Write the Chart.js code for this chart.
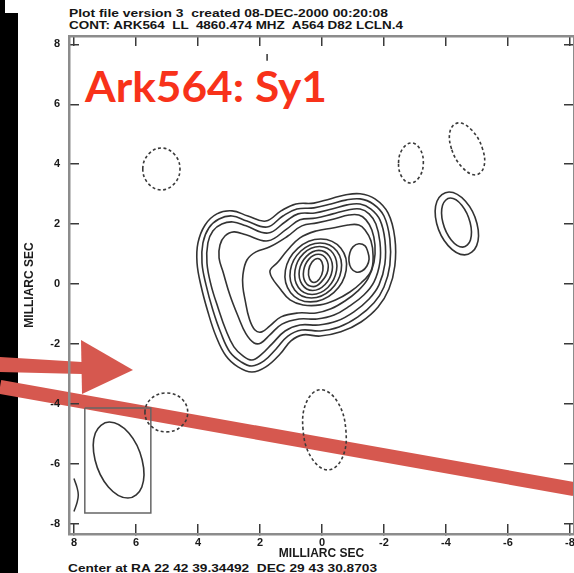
<!DOCTYPE html>
<html>
<head>
<meta charset="utf-8">
<script src="https://cdn.jsdelivr.net/npm/chart.js@4/dist/chart.umd.min.js"></script>
<style>
  html, body { margin: 0; padding: 0; background: #fff; overflow: hidden; }
  #wrap { position: relative; width: 574px; height: 573px; }
  #under, #map { position: absolute; left: 0; top: 0; }
  #under text { font-family: "Liberation Sans", Arial, sans-serif; font-weight: bold; fill: #151515; white-space: pre; }
</style>
</head>
<body>
<div id="wrap">
  <svg id="under" width="574" height="573" xml:space="preserve">
    <rect x="0" y="13" width="18" height="560" fill="#000"/>
    <rect x="0" y="0" width="5" height="13" fill="#000"/>
    <line x1="0" y1="387" x2="574" y2="489" stroke="#d6584f" stroke-width="14"/>
    <polygon points="0,357 82,362 82,374 0,372" fill="#d6584f"/>
    <polygon points="81,340 133,370 82,394" fill="#d6584f"/>
    <text x="69" y="16.5" font-size="11" textLength="319" lengthAdjust="spacingAndGlyphs">Plot file version 3  created 08-DEC-2000 00:20:08</text>
    <text x="69" y="29" font-size="11" textLength="334" lengthAdjust="spacingAndGlyphs">CONT: ARK564  LL  4860.474 MHZ  A564 D82 LCLN.4</text>
    <text x="68" y="571.5" font-size="11" textLength="309" lengthAdjust="spacingAndGlyphs">Center at RA 22 42 39.34492  DEC 29 43 30.8703</text>
    <text x="85" y="102" font-size="42" textLength="242" lengthAdjust="spacingAndGlyphs"
          style="font-family: Lato, 'Open Sans', sans-serif; font-weight: 700; fill: #f8321a;">Ark564: Sy1</text>
  </svg>
  <canvas id="map" width="574" height="573"></canvas>
</div>
<script>
// Axis ticks (milliarcseconds)
const xTicks = [8, 6, 4, 2, 0, -2, -4, -6, -8];
const yTicks = [8, 6, 4, 2, 0, -2, -4, -6, -8];

// Positive contours wrapping the whole source, outermost first
const ring1 = [[4.00,1.37],[3.77,1.97],[3.39,2.34],[2.90,2.44],[2.39,2.27],[1.81,2.10],[1.32,2.44],[0.84,2.67],[0.26,2.70],[-0.26,2.84],[-0.74,2.97],[-1.23,3.01],[-1.71,2.84],[-2.13,2.37],[-2.35,1.54],[-2.35,0.60],[-2.16,-0.17],[-1.81,-0.77],[-1.26,-1.27],[-0.61,-1.60],[0.06,-1.74],[0.61,-1.70],[1.00,-1.90],[1.35,-2.34],[1.81,-2.77],[2.26,-2.94],[2.71,-2.77],[3.10,-2.40],[3.42,-1.74],[3.68,-0.93],[3.90,-0.07],[4.03,0.70]];
const ring2 = [[3.84,1.37],[3.65,1.87],[3.32,2.17],[2.90,2.27],[2.42,2.10],[1.77,1.90],[1.26,2.27],[0.81,2.50],[0.26,2.54],[-0.29,2.67],[-0.77,2.80],[-1.23,2.84],[-1.65,2.67],[-2.00,2.27],[-2.19,1.50],[-2.19,0.63],[-2.00,-0.10],[-1.68,-0.63],[-1.16,-1.10],[-0.55,-1.44],[0.06,-1.57],[0.65,-1.54],[1.10,-1.74],[1.48,-2.17],[1.87,-2.57],[2.26,-2.74],[2.61,-2.60],[2.97,-2.27],[3.26,-1.64],[3.52,-0.87],[3.74,-0.03],[3.87,0.70]];
const ring3 = [[3.68,1.37],[3.52,1.77],[3.23,2.00],[2.87,2.07],[2.45,1.94],[1.74,1.70],[1.19,2.07],[0.77,2.34],[0.23,2.37],[-0.32,2.50],[-0.81,2.64],[-1.23,2.67],[-1.58,2.50],[-1.87,2.14],[-2.03,1.47],[-2.03,0.67],[-1.84,-0.03],[-1.52,-0.50],[-1.03,-0.93],[-0.48,-1.24],[0.10,-1.37],[0.71,-1.37],[1.19,-1.57],[1.61,-2.00],[1.97,-2.37],[2.26,-2.54],[2.55,-2.40],[2.84,-2.10],[3.10,-1.54],[3.35,-0.80],[3.58,-0.03],[3.71,0.70]];
const ring4 = [[3.29,1.30],[3.13,1.60],[2.84,1.74],[2.45,1.64],[1.74,1.44],[1.13,1.84],[0.71,2.14],[0.19,2.20],[-0.35,2.34],[-0.84,2.47],[-1.23,2.50],[-1.52,2.34],[-1.74,2.00],[-1.87,1.40],[-1.87,0.73],[-1.68,0.07],[-1.35,-0.37],[-0.90,-0.73],[-0.39,-1.04],[0.16,-1.17],[0.74,-1.17],[1.29,-1.34],[1.68,-1.70],[1.97,-1.97],[2.19,-1.97],[2.45,-1.67],[2.71,-1.07],[2.97,-0.37],[3.19,0.40],[3.32,0.87]];
const ring5 = [[2.55,0.30],[2.42,0.80],[2.13,1.07],[1.68,1.24],[1.10,1.60],[0.65,1.94],[0.16,2.04],[-0.39,2.17],[-0.87,2.30],[-1.19,2.30],[-1.42,2.14],[-1.61,1.80],[-1.71,1.30],[-1.68,0.73],[-1.48,0.17],[-1.16,-0.23],[-0.74,-0.57],[-0.29,-0.83],[0.19,-0.97],[0.77,-0.97],[1.32,-1.10],[1.68,-1.40],[1.94,-1.60],[2.16,-1.54],[2.35,-1.14],[2.48,-0.53],[2.55,-0.10]];
const ring6 = [[1.68,0.40],[1.42,0.73],[1.10,1.14],[0.71,1.54],[0.19,1.77],[-0.35,1.87],[-0.84,1.97],[-1.19,1.97],[-1.39,1.80],[-1.58,1.44],[-1.65,0.93],[-1.58,0.43],[-1.26,0.03],[-0.90,-0.27],[-0.45,-0.53],[0.06,-0.70],[0.61,-0.70],[1.03,-0.53],[1.32,-0.20]];

// Secondary knot to the west of the core
const knot = [[-1.19,1.34],[-1.39,1.27],[-1.48,1.07],[-1.52,0.83],[-1.45,0.60],[-1.29,0.43],[-1.10,0.40],[-0.94,0.53],[-0.87,0.77],[-0.90,1.04],[-1.00,1.24]];

// Core contours, outermost first
const core1 = [[1.18,0.45],[0.78,1.19],[0.04,1.50],[-0.61,1.19],[-0.78,0.45],[-0.38,-0.29],[0.37,-0.60],[1.01,-0.29]];
const core2 = [[1.02,0.45],[0.68,1.10],[0.06,1.37],[-0.48,1.10],[-0.62,0.45],[-0.28,-0.20],[0.34,-0.47],[0.88,-0.20]];
const core3 = [[0.87,0.45],[0.59,1.02],[0.08,1.25],[-0.36,1.02],[-0.47,0.45],[-0.19,-0.12],[0.32,-0.35],[0.76,-0.12]];
const core4 = [[0.73,0.45],[0.50,0.92],[0.10,1.12],[-0.24,0.92],[-0.33,0.45],[-0.10,-0.02],[0.30,-0.22],[0.64,-0.02]];
const core5 = [[0.59,0.45],[0.42,0.83],[0.12,0.99],[-0.14,0.83],[-0.19,0.45],[0.02,0.07],[0.28,-0.09],[0.54,0.07]];
const core6 = [[0.43,0.45],[0.32,0.73],[0.14,0.85],[0.00,0.73],[-0.03,0.45],[0.08,0.17],[0.26,0.05],[0.40,0.17]];

// Isolated component to the north-west (two levels)
const blobOuter = [[-3.70,2.02],[-3.71,2.76],[-4.10,3.07],[-4.63,2.76],[-5.00,2.02],[-4.99,1.28],[-4.60,0.97],[-4.07,1.28]];
const blobInner = [[-3.90,2.05],[-3.89,2.63],[-4.14,2.87],[-4.51,2.63],[-4.78,2.05],[-4.79,1.47],[-4.54,1.23],[-4.17,1.47]];

// Negative (dashed) contours
const negA = [[5.78,3.84],[5.60,4.33],[5.18,4.54],[4.76,4.33],[4.58,3.84],[4.76,3.35],[5.18,3.14],[5.60,3.35]];
const negB = [[-2.47,4.04],[-2.60,4.51],[-2.89,4.71],[-3.16,4.51],[-3.27,4.04],[-3.14,3.57],[-2.85,3.37],[-2.58,3.57]];
const negC = [[-4.18,4.51],[-4.14,5.13],[-4.41,5.38],[-4.84,5.13],[-5.18,4.51],[-5.22,3.90],[-4.95,3.64],[-4.52,3.90]];
const negD = [[5.71,-4.29],[5.51,-3.83],[5.02,-3.64],[4.53,-3.83],[4.33,-4.29],[4.53,-4.75],[5.02,-4.94],[5.51,-4.75]];
const negE = [[0.61,-4.87],[0.49,-3.92],[0.04,-3.53],[-0.49,-3.92],[-0.77,-4.87],[-0.65,-5.82],[-0.20,-6.21],[0.33,-5.82]];

// Restoring beam and its box, plus small edge fragments
const beam = [[7.32,-5.88],[7.31,-4.98],[6.86,-4.61],[6.23,-4.98],[5.80,-5.88],[5.81,-6.78],[6.26,-7.15],[6.89,-6.78]];
const beamBox = [[7.65,-4.14],[5.52,-4.14],[5.52,-7.65],[7.65,-7.65],[7.65,-4.14]];
const edgeArc = [[8.0,-6.5],[7.9,-6.8],[7.86,-7.05],[7.9,-7.3],[8.0,-7.6]];
const topFragment = [[1.77,7.68],[1.77,7.45]];

const solidColor = '#333333';
const dashColor = '#3a3a3a';

// Closed contour: wrap one point on each side so the spline joins smoothly,
// and hide the two wrap segments.
function closedContour(pts, dashed) {
  const n = pts.length;
  const data = [pts[n - 1], ...pts, pts[0], pts[1]].map(([x, y]) => ({ x, y }));
  const last = data.length - 1;
  return {
    data,
    showLine: true,
    tension: 0.4,
    pointRadius: 0,
    borderColor: dashed ? dashColor : solidColor,
    borderWidth: 1.6,
    borderDash: dashed ? [3, 2.5] : [],
    segment: {
      borderColor: ctx => (ctx.p0DataIndex === 0 || ctx.p1DataIndex === last) ? 'rgba(0,0,0,0)' : undefined
    },
    xAxisID: 'x',
    yAxisID: 'y'
  };
}

function openPath(pts, tension, color) {
  return {
    data: pts.map(([x, y]) => ({ x, y })),
    showLine: true,
    tension,
    pointRadius: 0,
    borderColor: color,
    borderWidth: 1.5,
    xAxisID: 'x',
    yAxisID: 'y'
  };
}

const datasets = [
  ...[ring1, ring2, ring3, ring4, ring5, ring6, knot,
      core1, core2, core3, core4, core5, core6,
      blobOuter, blobInner, beam].map(p => closedContour(p, false)),
  ...[negA, negB, negC, negD, negE].map(p => closedContour(p, true)),
  openPath(beamBox, 0, '#666'),
  openPath(edgeArc, 0.4, solidColor),
  openPath(topFragment, 0, solidColor)
];

const labelFont = { family: 'Liberation Sans', weight: 'bold', size: 11 };
const titleFont = { family: 'Liberation Sans', weight: 'bold', size: 12 };

function setTicks(values) {
  return scale => { scale.ticks = values.map(v => ({ value: v })); };
}
function fixSize(prop, size) {
  return scale => {
    scale[prop] = size;
    scale.paddingLeft = 0; scale.paddingRight = 0;
    scale.paddingTop = 0; scale.paddingBottom = 0;
  };
}
function axis(position, min, max, reverse, values, prop, size, showLabels, extra) {
  return Object.assign({
    type: 'linear',
    position,
    min, max, reverse,
    afterBuildTicks: setTicks(values),
    afterFit: fixSize(prop, size),
    border: { display: true, color: '#8c8c8c', width: 2.5 },
    grid: { display: true, drawOnChartArea: false, drawTicks: true, tickLength: -10, color: '#3a3a3a', lineWidth: 1.5 },
    ticks: { display: showLabels, autoSkip: false, maxRotation: 0, color: '#1a1a1a', font: labelFont,
             callback: v => String(v) }
  }, extra || {});
}

const X_MIN = -8.13, X_MAX = 8.16, Y_MIN = -8.35, Y_MAX = 8.28;

const xBottom = axis('bottom', X_MIN, X_MAX, true, xTicks, 'height', 39, true, {
  title: { display: true, text: 'MILLIARC SEC', color: '#1a1a1a', font: titleFont, padding: { top: 0, bottom: 12 } }
});
xBottom.ticks.padding = 12;
const xTop = axis('top', X_MIN, X_MAX, true, xTicks, 'height', 0, false);
const yLeft = axis('left', Y_MIN, Y_MAX, false, yTicks, 'width', 69, true, {
  title: { display: true, text: 'MILLIARC SEC', color: '#1a1a1a', font: titleFont, padding: { top: 22, bottom: 0 } }
});
yLeft.ticks.padding = 19;
const yRight = axis('right', Y_MIN, Y_MAX, false, yTicks, 'width', 0, false);

new Chart(document.getElementById('map'), {
  type: 'scatter',
  data: { datasets },
  options: {
    responsive: false,
    animation: false,
    devicePixelRatio: 1,
    layout: { padding: { top: 36, left: 0, right: 0, bottom: 0 } },
    plugins: { legend: { display: false }, tooltip: { enabled: false } },
    scales: { x: xBottom, xTop, y: yLeft, yRight }
  }
});
</script>
</body>
</html>
